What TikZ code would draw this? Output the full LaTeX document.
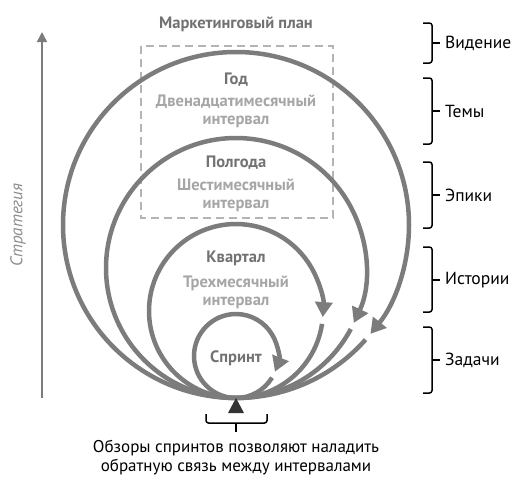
\documentclass[tikz,border=0pt]{standalone}
\usepackage{fontspec}
\setmainfont{PT Sans}
\usetikzlibrary{arrows.meta}
\definecolor{loopgray}{HTML}{7C7C7C}
\definecolor{titlegray}{HTML}{727272}
\definecolor{intgray}{HTML}{A6A6A6}
\definecolor{boxgray}{HTML}{B4B4B4}

\tikzset{
  loop/.style={draw=loopgray,line width=4.5pt},
  looparrow/.style={loop,-{Triangle[width=17pt,length=15pt]}},
  title/.style={font=\fontsize{16.5}{18}\selectfont\bfseries,text=titlegray,inner sep=0pt},
  interval/.style={font=\fontsize{16.5}{18}\selectfont\bfseries,text=intgray,align=center,inner sep=0pt},
  level/.style={font=\fontsize{17.5}{19}\selectfont,anchor=west,inner sep=5pt},
  bracket/.style={draw=black,line width=1.5pt,rounded corners=2.5pt}
}

\begin{document}
\begin{tikzpicture}[x=1pt,y=-1pt]
\useasboundingbox (0,0) rectangle (522,483);

% strategy axis
\draw[loopgray,line width=1.6pt,-{Triangle[width=10pt,length=10pt]}] (42,398) -- (42,32);
\node[rotate=90,font=\fontsize{17}{19}\selectfont\itshape,text=black!45] (strategy) at (18,225) {Стратегия};

% marketing plan
\node[title] (plan) at (236,24) {Маркетинговый план};
\draw[boxgray,line width=2pt,dash pattern=on 8pt off 5pt] (141,46) rectangle (333,218);

% loops, all from the bottom point
\draw[looparrow] (236,398) arc[start angle=90,end angle=399,radius=173];
\draw[loop] (236,225) ++(401.5:173) arc[start angle=401.5,end angle=450,radius=173];
\draw[looparrow] (236,398) arc[start angle=90,end angle=385,radius=130];
\draw[loop] (236,268) ++(388:130) arc[start angle=388,end angle=450,radius=130];
\draw[looparrow] (236,398) arc[start angle=90,end angle=364,radius=87];
\draw[loop] (236,311) ++(368.5:87) arc[start angle=368.5,end angle=450,radius=87];
\draw[looparrow] (236,398) arc[start angle=90,end angle=382,radius=42];
\draw[loop] (236,356) ++(391:42) arc[start angle=391,end angle=450,radius=42];

% loop labels
\node[title] (year) at (236,80) {Год};
\node[interval] (yearint) at (236,111) {Двенадцатимесячный\\интервал};
\node[title] (half) at (236,163) {Полгода};
\node[interval] (halfint) at (236,195.5) {Шестимесячный\\интервал};
\node[title] (quarter) at (236,258) {Квартал};
\node[interval] (quarterint) at (236,292.5) {Трехмесячный\\интервал};
\node[title] (sprint) at (236,358) {Спринт};

% levels
\node[level] (vision) at (440,43) {Видение};
\draw[bracket] (423,23) -| (432,43) |- (423,63);
\draw[bracket] (432,43) -- (vision.west);
\node[level] (themes) at (440,111) {Темы};
\draw[bracket] (423,78) -| (432,111) |- (423,144);
\draw[bracket] (432,111) -- (themes.west);
\node[level] (epics) at (440,195) {Эпики};
\draw[bracket] (423,162) -| (432,195) |- (423,228);
\draw[bracket] (432,195) -- (epics.west);
\node[level] (stories) at (440,280) {Истории};
\draw[bracket] (423,247) -| (432,280) |- (423,312);
\draw[bracket] (432,280) -- (stories.west);
\node[level] (tasks) at (440,360) {Задачи};
\draw[bracket] (423,327) -| (432,360) |- (423,393);
\draw[bracket] (432,360) -- (tasks.west);

% sprint reviews
\fill[black!80] (236,398) -- (244,413) -- (228,413) -- cycle;
\draw[bracket] (206,414) |- (236,423) -| (267,414);
\coordinate (reviewtick) at (236,432);
\draw[bracket] (236,423) -- (reviewtick);
\node[font=\fontsize{17}{19}\selectfont,align=center,inner sep=0pt] (review) at (236,457.5)
  {Обзоры спринтов позволяют наладить\\обратную связь между интервалами};
\end{tikzpicture}
\end{document}
